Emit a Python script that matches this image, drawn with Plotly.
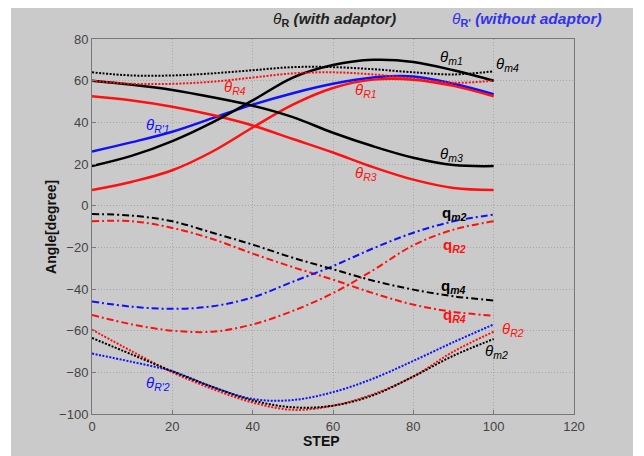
import plotly.graph_objects as go

steps = [0, 10, 20, 30, 40, 50, 60, 70, 80, 90, 100]

# solid curves
theta_m1 = [19, 24, 31, 40, 50.5, 61.5, 67.5, 70, 69, 65, 60]
theta_Rp1 = [26, 30.5, 35.5, 42, 48.5, 54, 58.5, 61.5, 62, 58.5, 53.5]
theta_R1 = [7.5, 11.5, 17, 26, 37.5, 48.5, 56.5, 60.5, 60.5, 57.5, 52.5]
theta_m3 = [60, 58, 55.5, 52, 48, 42.5, 35, 28.5, 23, 19.5, 19]
theta_R3 = [52.5, 50.5, 47.5, 43.5, 38.5, 32, 25.5, 18.5, 12.5, 8.5, 7.5]
# dotted top
theta_m4 = [64, 62.5, 62.5, 63.5, 65, 66.5, 66.5, 65.5, 64, 63, 64.5]
theta_R4 = [60, 58.5, 58.5, 59.5, 61.5, 63.5, 64, 63, 61, 59, 60]
# dash-dot
q_black = [-4, -4.8, -7.5, -13, -18.7, -25, -30.5, -36, -40.3, -43.5, -45.5]
q_red_desc = [-7.5, -7.5, -10.7, -16, -23, -29.5, -35.5, -42, -47.5, -51, -52.8]
q_blue = [-46, -48.5, -49.5, -48.3, -44, -36.5, -29, -20.5, -13, -7.5, -4.3]
q_red_rise = [-52.5, -57, -60, -60.5, -57, -50.5, -42, -31, -19, -11.5, -7.5]
# dotted bottom
theta_R2 = [-59.5, -70, -80, -88, -94.5, -98, -96, -90.5, -82, -70, -60.5]
theta_m2 = [-63.5, -71.5, -79.5, -87, -93.5, -96.8, -96, -91, -82, -72, -64]
theta_Rp2 = [-71, -75, -79.5, -87, -92.8, -93.3, -89.5, -83, -74.5, -65.5, -57]

x_ticks = [0, 20, 40, 60, 80, 100, 120]
y_ticks = [-100, -80, -60, -40, -20, 0, 20, 40, 60, 80]

RED = "#ff1010"
BLUE = "#1010ff"
BLACK = "#000000"
DOT = "2px,1.5px"
DASHDOT = "7px,3px,2px,3px"
FONT = "Liberation Sans, Arial"

series = [
    (theta_Rp1, BLUE, "solid", 2.5),
    (theta_R1, RED, "solid", 2.5),
    (theta_R3, RED, "solid", 2.5),
    (theta_m3, BLACK, "solid", 2.5),
    (theta_m1, BLACK, "solid", 2.5),
    (theta_R4, RED, DOT, 2),
    (theta_m4, BLACK, DOT, 2),
    (q_red_desc, RED, DASHDOT, 2),
    (q_red_rise, RED, DASHDOT, 2),
    (q_blue, BLUE, DASHDOT, 2),
    (q_black, BLACK, DASHDOT, 2),
    (theta_Rp2, BLUE, DOT, 2),
    (theta_R2, RED, DOT, 2),
    (theta_m2, BLACK, DOT, 2),
]

fig = go.Figure()
for ys, col, dash, w in series:
    fig.add_trace(go.Scatter(x=steps, y=ys, mode="lines",
                             line=dict(color=col, dash=dash, width=w, shape="spline", smoothing=1.0),
                             showlegend=False, hoverinfo="skip"))

def th(sub):
    return "<i>θ</i><sub><i>%s</i></sub>" % sub

labels = [
    (35.7, 56.5, th("R4"), RED),
    (68.3, 55.1, th("R1"), RED),
    (16.5, 38.3, th("R'1"), BLUE),
    (68.3, 15.3, th("R3"), RED),
    (89.5, 70.9, th("m1"), BLACK),
    (103.5, 68.0, th("m4"), BLACK),
    (89.5, 24.4, th("m3"), BLACK),
    (104.7, -59.6, th("R2"), RED),
    (100.7, -70.1, th("m2"), BLACK),
    (16.5, -85.5, th("R'2"), BLUE),
    (90.3, -3.9, "<b>q<sub><i>m2</i></sub></b>", BLACK),
    (90.3, -19.3, "<b>q<sub><i>R2</i></sub></b>", RED),
    (90.0, -38.9, "<b>q<sub><i>m4</i></sub></b>", BLACK),
    (90.3, -52.9, "<b>q<sub><i>R4</i></sub></b>", RED),
]
for x, y, t, c in labels:
    fig.add_annotation(x=x, y=y, xref="x", yref="y", text=t, showarrow=False,
                       xanchor="center", yanchor="middle",
                       font=dict(family=FONT, size=15, color=c))

# headers
fig.add_annotation(x=0.504, y=1.051, xref="paper", yref="paper", showarrow=False,
                   xanchor="center", yanchor="middle",
                   text="<i>θ</i><sub><b>R</b></sub> <b><i>(with adaptor)</i></b>",
                   font=dict(family=FONT, size=15.5, color="#222222"))
fig.add_annotation(x=0.902, y=1.051, xref="paper", yref="paper", showarrow=False,
                   xanchor="center", yanchor="middle",
                   text="<i>θ</i><sub><b>R'</b></sub> <b><i>(without adaptor)</i></b>",
                   font=dict(family=FONT, size=15.5, color="#3333ee"))
# axis titles
fig.add_annotation(x=0.477, y=-0.072, xref="paper", yref="paper", showarrow=False,
                   xanchor="center", yanchor="middle",
                   text="<b>STEP</b>", font=dict(family=FONT, size=14, color="#111111"))
fig.add_annotation(x=-0.085, y=0.499, xref="paper", yref="paper", showarrow=False, textangle=-90,
                   xanchor="center", yanchor="middle",
                   text="<b>Angle[degree]</b>", font=dict(family=FONT, size=14, color="#111111"))

# gray figure panel
fig.add_shape(type="rect", xref="paper", yref="paper", x0=-0.168, x1=1.1224, y0=-0.13, y1=1.0907,
              fillcolor="#cacaca", line=dict(width=0), layer="below")

axis_common = dict(showgrid=True, gridcolor="#a8a8a8", griddash="1px,2px", gridwidth=1,
                   showline=True, linecolor="#777777", linewidth=1, mirror=True,
                   ticks="inside", ticklen=4, tickcolor="#777777",
                   tickfont=dict(family=FONT, size=13, color="#444444"),
                   zeroline=False)

fig.update_xaxes(range=[0, 120], tickvals=x_ticks, **axis_common)
fig.update_yaxes(range=[-100, 80], tickvals=y_ticks, **axis_common)

# page body has an 8px default margin, so the figure is offset by 8px
fig.update_layout(width=636, height=448,
                  margin=dict(l=84, r=70, t=31, b=42),
                  paper_bgcolor="white", plot_bgcolor="white",
                  showlegend=False)

fig.write_html("out.html")
